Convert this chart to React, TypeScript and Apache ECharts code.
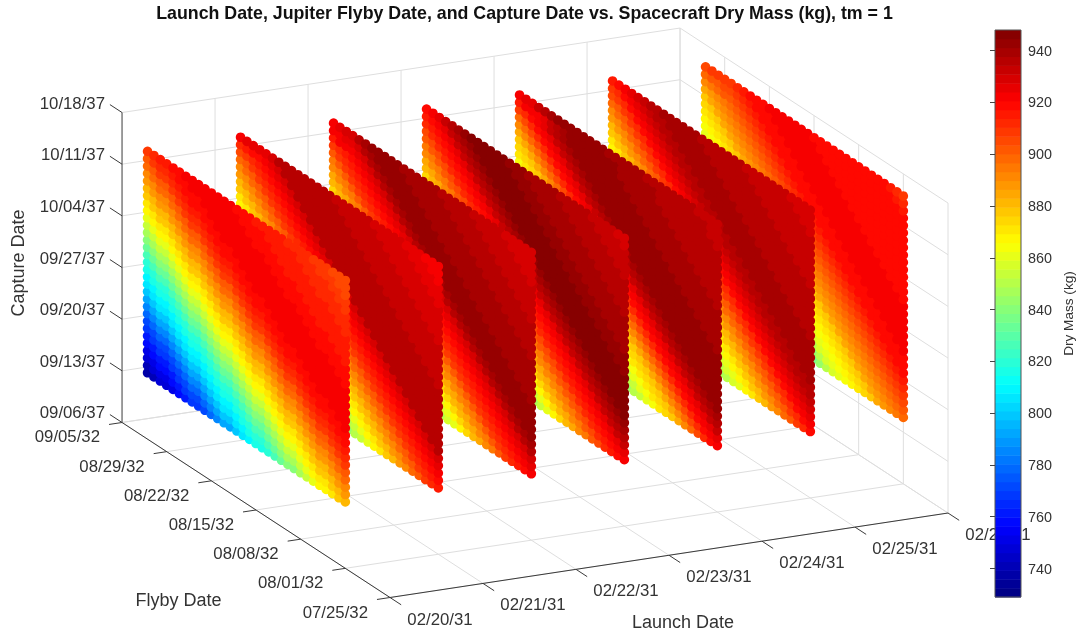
import React, { useEffect, useRef } from "react";
import * as echarts from "echarts";

const FONT = "'Liberation Sans', Arial, sans-serif";

// Tick labels of the three date axes (one step = 1 day for launch, 7 days for the other two).
const launchTicks = ["02/20/31", "02/21/31", "02/22/31", "02/23/31", "02/24/31", "02/25/31", "02/26/31"];
const flybyTicks = ["07/25/32", "08/01/32", "08/08/32", "08/15/32", "08/22/32", "08/29/32", "09/05/32"];
const captureTicks = ["09/06/37", "09/13/37", "09/20/37", "09/27/37", "10/04/37", "10/11/37", "10/18/37"];
const colorbarTicks = [740, 760, 780, 800, 820, 840, 860, 880, 900, 920, 940];

// Days from each axis's first tick.
const launchDays = [0, 1, 2, 3, 4, 5, 6];
const flybyDays = [38, 37, 36, 35, 34, 33, 32, 31, 30, 29, 28, 27, 26, 25, 24, 23, 22, 21, 20, 19, 18, 17, 16, 15, 14, 13, 12, 11, 10, 9, 8, 7];
const captureDays = [9, 10, 11, 12, 13, 14, 15, 16, 17, 18, 19, 20, 21, 22, 23, 24, 25, 26, 27, 28, 29, 30, 31, 32, 33, 34, 35, 36, 37, 38, 39];

const MASS_MIN = 729;
const MASS_MAX = 948;

// Dry mass, as colour-bar bands (one character = one of 64 bands).
// One string per capture date, bottom to top; one character per flyby date, back to front.
const BANDS = "0123456789abcdefghijklmnopqrstuvwxyzABCDEFGHIJKLMNOPQRSTUVWXYZ+*";

const massLaunch0 = [
  "23556" + "89bbcegiikmnppqsuwwyACEEFHI",
  "3566" + "89bccegikkmnpqqsuwyyACEFFHIK",
  "5688" + "9bceegikmmnpqssuwyAACEFHHIKL",
  "6899" + "bcegg" + "ikmnn" + "pqsuu" + "wyACC" + "EFHII" + "KLN",
  "89bb" + "cegii" + "kmnpp" + "qsuww" + "yACEE" + "FHIKK" + "LNO",
  "9bcc" + "egikk" + "mnpqq" + "suwyy" + "ACEFF" + "HIKLL" + "NOQ",
  "bcee" + "gikmm" + "npqss" + "uwyAA" + "CEFHH" + "IKLNN" + "OQR",
  "cegg" + "ikmnn" + "pqsuu" + "wyACC" + "EFHII" + "KLNOO" + "QRS",
  "egii" + "kmnpp" + "qsuww" + "yACEE" + "FHIKK" + "LNOQQ" + "RST",
  "gikk" + "mnpqq" + "suwyy" + "ACEFF" + "HIKLL" + "NOQRR" + "STT",
  "ikmm" + "npqss" + "uwyAA" + "CEFHH" + "IKLNN" + "OQRSS" + "TTU",
  "kmnn" + "pqsuu" + "wyACC" + "EFHII" + "KLNOO" + "QRSTT" + "TUU",
  "mnpp" + "qsuww" + "yACEE" + "FHIKK" + "LNOQQ" + "RSTTT" + "UUU",
  "npqq" + "suwyy" + "ACEFF" + "HIKLL" + "NOQRR" + "STTUU" + "UUU",
  "pqss" + "uwyAA" + "CEFHH" + "IKLNN" + "OQRSS" + "TTUUU" + "UUU",
  "qsuu" + "wyACC" + "EFHII" + "KLNOO" + "QRSTT" + "TUUUU" + "UUU",
  "suww" + "yACEE" + "FHIKK" + "LNOQQ" + "RSTTT" + "UUUUU" + "UUT",
  "uwyy" + "ACEFF" + "HIKLL" + "NOQRR" + "STTUU" + "UUUUU" + "UTT",
  "wyAA" + "CEFHH" + "IKLNN" + "OQRSS" + "TTUUU" + "UUUUU" + "TTT",
  "yACC" + "EFHII" + "KLNOO" + "QRSTT" + "TUUUU" + "UUUTT" + "TTS",
  "ACEE" + "FHIKK" + "LNOQQ" + "RSTTT" + "UUUUU" + "UUTTT" + "TSS",
  "CEFF" + "HIKLL" + "NOQRR" + "STTUU" + "UUUUU" + "UTTTT" + "SSS",
  "EFHH" + "IKLNN" + "OQRSS" + "TTUUU" + "UUUUU" + "TTTSS" + "SSS",
  "FHII" + "KLNOO" + "QRSTT" + "TUUUU" + "UUUTT" + "TTSSS" + "SSR",
  "HIKK" + "LNOQQ" + "RSTTT" + "UUUUU" + "UUTTT" + "TSSSS" + "SRR",
  "IKLL" + "NOQRR" + "STTUU" + "UUUUU" + "UTTTT" + "SSSSS" + "RRR",
  "KLNN" + "OQRSS" + "TTUUU" + "UUUUU" + "TTTSS" + "SSSRR" + "RRQ",
  "LNOO" + "QRSTT" + "TUUUU" + "UUUTT" + "TTSSS" + "SSRRR" + "RQQ",
  "NOQQ" + "RSTTT" + "UUUUU" + "UUTTT" + "TSSSS" + "SRRRR" + "QQP",
  "OQRR" + "STTUU" + "UUUUU" + "UTTTT" + "SSSSS" + "RRRQQ" + "QPP",
  "QRSS" + "TTUUU" + "UUUUU" + "TTTSS" + "SSSRR" + "RRQQQ" + "PPP",
];

const massLaunch1 = [
  "89bcefhiklnoqrtuwxzACEFHIKLNOQRS",
  "9bcefhiklnoqrtuwxzACEFHIKLNOQRST",
  "bcefhiklnoqrtuwxzACEFHIKLNOQRSTU",
  "cefhiklnoqrtuwxzACEFHIKLNOQRSTUV",
  "efhiklnoqrtuwxzACEFHIKLNOQRSTUVW",
  "fhiklnoqrtuwxzACEFHIKLNOQRSTUVWY",
  "hiklnoqrtuwxzACEFHIKLNOQRSTUVWYY",
  "iklnoqrtuwxzACEFHIKLNOQRSTUVWYYY",
  "klnoqrtuwxzACEFHIKLNOQRSTUVWYYYY",
  "lnoqrtuwxzACEFHIKLNOQRSTUVWYYYYY",
  "noqrtuwxzACEFHIKLNOQRSTUVWYYYYYY",
  "oqrtuwxzACEFHIKLNOQRSTUVWYYYYYYY",
  "qrtuwxzACEFHIKLNOQRSTUVWYYYYYYYY",
  "rtuwxzACEFHIKLNOQRSTUVWYYYYYYYYY",
  "tuwxzACEFHIKLNOQRSTUVWYYYYYYYYYX",
  "uwxzACEFHIKLNOQRSTUVWYYYYYYYYYXX",
  "wxzACEFHIKLNOQRSTUVWYYYYYYYYYXXX",
  "xzACEFHIKLNOQRSTUVWYYYYYYYYYXXXX",
  "zACEFHIKLNOQRSTUVWYYYYYYYYYXXXXX",
  "ACEFHIKLNOQRSTUVWYYYYYYYYYXXXXXX",
  "CEFHIKLNOQRSTUVWYYYYYYYYYXXXXXXW",
  "EFHIKLNOQRSTUVWYYYYYYYYYXXXXXXWW",
  "FHIKLNOQRSTUVWYYYYYYYYYXXXXXXWWW",
  "HIKLNOQRSTUVWYYYYYYYYYXXXXXXWWWW",
  "IKLNOQRSTUVWYYYYYYYYYXXXXXXWWWWW",
  "KLNOQRSTUVWYYYYYYYYYXXXXXXWWWWWV",
  "LNOQRSTUVWYYYYYYYYYXXXXXXWWWWWVV",
  "NOQRSTUVWYYYYYYYYYXXXXXXWWWWWVVV",
  "PQRSTUVWYYYYYYYYYXXXXXXWWWWWVVVU",
  "RSTTUVWYYYYYYYYYXXXXXXWWWWWVVVUU",
  "UVVVVWYYYYYYYYYXXXXXXWWWWWVVVUUU",
];

const massLaunch2 = [
  "79bdfhikmnpqstuwxzBCEGIJLMOQRSTU",
  "9bdfhikmnpqstuwxzBCEGIJLMOQRSTUV",
  "bdfhikmnpqstuwxzBCEGIJLMOQRSTUVW",
  "dfhikmnpqstuwxzBCEGIJLMOQRSTUVWY",
  "fhikmnpqstuwxzBCEGIJLMOQRSTUVWYZ",
  "hikmnpqstuwxzBCEGIJLMOQRSTUVWYZ+",
  "ikmnpqstuwxzBCEGIJLMOQRSTUVWYZ++",
  "kmnpqstuwxzBCEGIJLMOQRSTUVWYZ+++",
  "mnpqstuwxzBCEGIJLMOQRSTUVWYZ++++",
  "npqstuwxzBCEGIJLMOQRSTUVWYZ+++++",
  "pqstuwxzBCEGIJLMOQRSTUVWYZ+++++Z",
  "qstuwxzBCEGIJLMOQRSTUVWYZ+++++ZZ",
  "stuwxzBCEGIJLMOQRSTUVWYZ+++++ZZZ",
  "tuwxzBCEGIJLMOQRSTUVWYZ+++++ZZZZ",
  "uwxzBCEGIJLMOQRSTUVWYZ+++++ZZZZZ",
  "wxzBCEGIJLMOQRSTUVWYZ+++++ZZZZZZ",
  "xzBCEGIJLMOQRSTUVWYZ+++++ZZZZZZY",
  "zBCEGIJLMOQRSTUVWYZ+++++ZZZZZZYY",
  "BCEGIJLMOQRSTUVWYZ+++++ZZZZZZYYY",
  "CEGIJLMOQRSTUVWYZ+++++ZZZZZZYYYY",
  "EGIJLMOQRSTUVWYZ+++++ZZZZZZYYYYY",
  "GIJLMOQRSTUVWYZ+++++ZZZZZZYYYYYX",
  "IJLMOQRSTUVWYZ+++++ZZZZZZYYYYYXX",
  "JLMOQRSTUVWYZ+++++ZZZZZZYYYYYXXX",
  "LMOQRSTUVWYZ+++++ZZZZZZYYYYYXXXX",
  "MOQRSTUVWYZ+++++ZZZZZZYYYYYXXXXX",
  "OQRSTUVWYZ+++++ZZZZZZYYYYYXXXXXW",
  "QRSTUVWYZ+++++ZZZZZZYYYYYXXXXXWW",
  "SUUUVWYZ+++++ZZZZZZYYYYYXXXXXWWW",
  "UUVVWYZ+++++ZZZZZZYYYYYXXXXXWWWW",
  "UVWWYZ+++++ZZZZZZYYYYYXXXXXWWWWW",
];

const massLaunch3 = [
  "68aceghjlmoprstvwyACEGIJLMOPRSTU",
  "8aceghjlmoprstvwyACEGIJLMOPRSTUV",
  "aceghjlmoprstvwyACEGIJLMOPRSTUVX",
  "ceghjlmoprstvwyACEGIJLMOPRSTUVXY",
  "eghjlmoprstvwyACEGIJLMOPRSTUVXYZ",
  "ghjlmoprstvwyACEGIJLMOPRSTUVXYZ+",
  "hjlmoprstvwyACEGIJLMOPRSTUVXYZ+*",
  "jlmoprstvwyACEGIJLMOPRSTUVXYZ+**",
  "lmoprstvwyACEGIJLMOPRSTUVXYZ+***",
  "moprstvwyACEGIJLMOPRSTUVXYZ+****",
  "oprstvwyACEGIJLMOPRSTUVXYZ+*****",
  "prstvwyACEGIJLMOPRSTUVXYZ+******",
  "rstvwyACEGIJLMOPRSTUVXYZ+******+",
  "stvwyACEGIJLMOPRSTUVXYZ+******++",
  "tvwyACEGIJLMOPRSTUVXYZ+******+++",
  "vwyACEGIJLMOPRSTUVXYZ+******+++Z",
  "wyACEGIJLMOPRSTUVXYZ+******+++ZZ",
  "yACEGIJLMOPRSTUVXYZ+******+++ZZZ",
  "ACEGIJLMOPRSTUVXYZ+******+++ZZZZ",
  "CEGIJLMOPRSTUVXYZ+******+++ZZZZZ",
  "EGIJLMOPRSTUVXYZ+******+++ZZZZZY",
  "GIJLMOPRSTUVXYZ+******+++ZZZZZYY",
  "IJLMOPRSTUVXYZ+******+++ZZZZZYYY",
  "JLMOPRSTUVXYZ+******+++ZZZZZYYYY",
  "LMOPRSTUVXYZ+******+++ZZZZZYYYYY",
  "MOPRSTUVXYZ+******+++ZZZZZYYYYYX",
  "OPRSTUVXYZ+******+++ZZZZZYYYYYXX",
  "PRSTUVXYZ+******+++ZZZZZYYYYYXXX",
  "RSTUVXYZ+******+++ZZZZZYYYYYXXXX",
  "STUVXYZ+******+++ZZZZZYYYYYXXXXW",
  "TUVXYZ+******+++ZZZZZYYYYYXXXXWW",
];

const massLaunch4 = [
  "68acdfgiklnoqrtuwxzACDFGHJLNPRTU",
  "8acdfgiklnoqrtuwxzACDFGHJLNPRTUV",
  "acdfgiklnoqrtuwxzACDFGHJLNPRTUVX",
  "cdfgiklnoqrtuwxzACDFGHJLNPRTUVXY",
  "dfgiklnoqrtuwxzACDFGHJLNPRTUVXYZ",
  "fgiklnoqrtuwxzACDFGHJLNPRTUVXYZ+",
  "giklnoqrtuwxzACDFGHJLNPRTUVXYZ++",
  "iklnoqrtuwxzACDFGHJLNPRTUVXYZ+++",
  "klnoqrtuwxzACDFGHJLNPRTUVXYZ++++",
  "lnoqrtuwxzACDFGHJLNPRTUVXYZ+++++",
  "noqrtuwxzACDFGHJLNPRTUVXYZ++++++",
  "oqrtuwxzACDFGHJLNPRTUVXYZ+++++++",
  "qrtuwxzACDFGHJLNPRTUVXYZ++++++++",
  "rtuwxzACDFGHJLNPRTUVXYZ++++++++Z",
  "tuwxzACDFGHJLNPRTUVXYZ++++++++ZZ",
  "uwxzACDFGHJLNPRTUVXYZ++++++++ZZZ",
  "wxzACDFGHJLNPRTUVXYZ++++++++ZZZZ",
  "xzACDFGHJLNPRTUVXYZ++++++++ZZZZZ",
  "zACDFGHJLNPRTUVXYZ++++++++ZZZZZZ",
  "ACDFGHJLNPRTUVXYZ++++++++ZZZZZZY",
  "CDFGHJLNPRTUVXYZ++++++++ZZZZZZYY",
  "DFGHJLNPRTUVXYZ++++++++ZZZZZZYYY",
  "FGHJLNPRTUVXYZ++++++++ZZZZZZYYYY",
  "GHJLNPRTUVXYZ++++++++ZZZZZZYYYYY",
  "HJLNPRTUVXYZ++++++++ZZZZZZYYYYYY",
  "JLNPRTUVXYZ++++++++ZZZZZZYYYYYYY",
  "LNPRTUVXYZ++++++++ZZZZZZYYYYYYYY",
  "NPRTUVXYZ++++++++ZZZZZZYYYYYYYYX",
  "QRTUVXYZ++++++++ZZZZZZYYYYYYYYXX",
  "SUUUVXYZ++++++++ZZZZZZYYYYYYYYXX",
  "UVVXYZ++++++++ZZZZZZYYYYYYYYXXXX",
];

const massLaunch5 = [
  "68abdfgiklnoqrtvwyzBCEFHIKLNOQRT",
  "8abdfgiklnoqrtvwyzBCEFHIKLNOQRTU",
  "abdfgiklnoqrtvwyzBCEFHIKLNOQRTUV",
  "bdfgiklnoqrtvwyzBCEFHIKLNOQRTUVW",
  "dfgiklnoqrtvwyzBCEFHIKLNOQRTUVWX",
  "fgiklnoqrtvwyzBCEFHIKLNOQRTUVWXY",
  "giklnoqrtvwyzBCEFHIKLNOQRTUVWXYY",
  "iklnoqrtvwyzBCEFHIKLNOQRTUVWXYYZ",
  "klnoqrtvwyzBCEFHIKLNOQRTUVWXYYZZ",
  "lnoqrtvwyzBCEFHIKLNOQRTUVWXYYZZZ",
  "noqrtvwyzBCEFHIKLNOQRTUVWXYYZZZZ",
  "oqrtvwyzBCEFHIKLNOQRTUVWXYYZZZZZ",
  "qrtvwyzBCEFHIKLNOQRTUVWXYYZZZZZZ",
  "rtvwyzBCEFHIKLNOQRTUVWXYYZZZZZZY",
  "tvwyzBCEFHIKLNOQRTUVWXYYZZZZZZYY",
  "vwyzBCEFHIKLNOQRTUVWXYYZZZZZZYYY",
  "wyzBCEFHIKLNOQRTUVWXYYZZZZZZYYYY",
  "yzBCEFHIKLNOQRTUVWXYYZZZZZZYYYYY",
  "zBCEFHIKLNOQRTUVWXYYZZZZZZYYYYYY",
  "BCEFHIKLNOQRTUVWXYYZZZZZZYYYYYYY",
  "CEFHIKLNOQRTUVWXYYZZZZZZYYYYYYYX",
  "EFHIKLNOQRTUVWXYYZZZZZZYYYYYYYXX",
  "FHIKLNOQRTUVWXYYZZZZZZYYYYYYYXXX",
  "HIKLNOQRTUVWXYYZZZZZZYYYYYYYXXXX",
  "IKLNOQRTUVWXYYZZZZZZYYYYYYYXXXXX",
  "KLNOQRTUVWXYYZZZZZZYYYYYYYXXXXXX",
  "LNOQRTUVWXYYZZZZZZYYYYYYYXXXXXXX",
  "NOQRTUVWXYYZZZZZZYYYYYYYXXXXXXXW",
  "PQRTUVWXYYZZZZZZYYYYYYYXXXXXXXWW",
  "QRTUVWXYYZZZZZZYYYYYYYXXXXXXXWWW",
  "STUVWXYYZZZZZZYYYYYYYXXXXXXXWWWW",
];

const massLaunch6 = [
  "34679acdfgijlnprtvxzBCDEFGHJKLMN",
  "4679acdfgijlnprtvxzBCDEFGHJKLMNO",
  "679acdfgijlnprtvxzBCDEFGHJKLMNOP",
  "79acdfgijlnprtvxzBCDEFGHJKLMNOPQ",
  "9acdfgijlnprtvxzBCDEFGHJKLMNOPQR",
  "acdfgijlnprtvxzBCDEFGHJKLMNOPQRS",
  "cdfgijlnprtvxzBCDEFGHJKLMNOPQRST",
  "dfgijlnprtvxzBCDEFGHJKLMNOPQRSTT",
  "fgijlnprtvxzBCDEFGHJKLMNOPQRSTTT",
  "gijlnprtvxzBCDEFGHJKLMNOPQRSTTTU",
  "ijlnprtvxzBCDEFGHJKLMNOPQRSTTTUU",
  "jlnprtvxzBCDEFGHJKLMNOPQRSTTTUUU",
  "lnprtvxzBCDEFGHJKLMNOPQRSTTTUUUU",
  "nprtvxzBCDEFGHJKLMNOPQRSTTTUUUUU",
  "prtvxzBCDEFGHJKLMNOPQRSTTTUUUUUU",
  "rtvxzBCDEFGHJKLMNOPQRSTTTUUUUUUU",
  "tvxzBCDEFGHJKLMNOPQRSTTTUUUUUUUT",
  "vxzBCDEFGHJKLMNOPQRSTTTUUUUUUUTT",
  "xzBCDEFGHJKLMNOPQRSTTTUUUUUUUTTT",
  "zBCDEFGHJKLMNOPQRSTTTUUUUUUUTTTT",
  "BCDEFGHJKLMNOPQRSTTTUUUUUUUTTTTT",
  "CDEFGHJKLMNOPQRSTTTUUUUUUUTTTTTT",
  "DEFGHJKLMNOPQRSTTTUUUUUUUTTTTTTT",
  "EFGHJKLMNOPQRSTTTUUUUUUUTTTTTTTT",
  "FGHJKLMNOPQRSTTTUUUUUUUTTTTTTTTT",
  "GHJKLMNOPQRSTTTUUUUUUUTTTTTTTTTT",
  "HJKLMNOPQRSTTTUUUUUUUTTTTTTTTTTT",
  "JKLMNOPQRSTTTUUUUUUUTTTTTTTTTTTT",
  "LMNOOPQRSTTTUUUUUUUTTTTTTTTTTTTS",
  "NOOPPQRSTTTUUUUUUUTTTTTTTTTTTTSR",
  "PQQQQRSTTTUUUUUUUTTTTTTTTTTTTSRQ",
];

const massByLaunch = [massLaunch0, massLaunch1, massLaunch2, massLaunch3, massLaunch4, massLaunch5, massLaunch6];

const bandWidth = (MASS_MAX - MASS_MIN) / BANDS.length;
const massOf = (band: number) => MASS_MIN + (band + 0.5) * bandWidth;
const clamp01 = (v: number) => Math.max(0, Math.min(1, v));
function jet(band: number) {
  const v = (band + 0.5) / BANDS.length;
  const r = clamp01(Math.min(4 * v - 1.5, -4 * v + 4.5));
  const g = clamp01(Math.min(4 * v - 0.5, -4 * v + 3.5));
  const b = clamp01(Math.min(4 * v + 0.5, -4 * v + 2.5));
  return `rgb(${Math.round(r * 255)},${Math.round(g * 255)},${Math.round(b * 255)})`;
}

// Orthographic view of the MATLAB box: days on each axis to page units.
function project(launch: number, flyby: number, capture: number): [number, number] {
  return [
    390 + 93 * launch - 6.38 * flyby,
    597.5 - 14.08 * launch - 4.167 * flyby - 7.38 * capture,
  ];
}

const GRID = "#dedede";
const AXIS = "#3a3a3a";
const TEXT = "#333333";
const L_END = 6;
const D_END = 42;

type Seg = { a: [number, number]; b: [number, number]; color: string };
function buildSegments(): Seg[] {
  const segs: Seg[] = [];
  const add = (p: number[], q: number[], color: string) =>
    segs.push({ a: project(p[0], p[1], p[2]), b: project(q[0], q[1], q[2]), color });
  launchDays.forEach((l) => {
    add([l, 0, 0], [l, D_END, 0], GRID);
    if (l > 0) add([l, D_END, 0], [l, D_END, D_END], GRID);
  });
  flybyTicks.forEach((_, k) => {
    const f = k * 7;
    add([0, f, 0], [L_END, f, 0], GRID);
    add([L_END, f, 0], [L_END, f, D_END], GRID);
  });
  captureTicks.forEach((_, k) => {
    const c = k * 7;
    add([0, D_END, c], [L_END, D_END, c], GRID);
    add([L_END, 0, c], [L_END, D_END, c], GRID);
  });
  add([0, D_END, 0], [0, D_END, D_END], AXIS);
  add([0, 0, 0], [0, D_END, 0], AXIS);
  add([0, 0, 0], [L_END, 0, 0], AXIS);
  captureTicks.forEach((_, k) => add([0, D_END, k * 7], [0, D_END + 1.9, k * 7], AXIS));
  flybyTicks.forEach((_, k) => add([0, k * 7, 0], [-0.14, k * 7, 0], AXIS));
  launchDays.forEach((l) => add([l, 0, 0], [l, -1.75, 0], AXIS));
  return segs;
}

type Label = { x: number; y: number; text: string; align: string; size: number; rotate?: number };
function buildLabels(): Label[] {
  const out: Label[] = [];
  captureTicks.forEach((text, k) => {
    const p = project(0, D_END, k * 7);
    out.push({ x: p[0] - 17, y: p[1] - 9.5, text, align: "right", size: 16.8 });
  });
  flybyTicks.forEach((text, k) => {
    const p = project(0, k * 7, 0);
    out.push({ x: p[0] - 22, y: p[1] + 14.5, text, align: "right", size: 16.8 });
  });
  launchTicks.forEach((text, k) => {
    const p = project(k, 0, 0);
    out.push({ x: p[0] + 50, y: p[1] + 21.5, text, align: "center", size: 16.8 });
  });
  out.push({ x: 18, y: 263, text: "Capture Date", align: "center", size: 18, rotate: Math.PI / 2 });
  out.push({ x: 178.5, y: 600, text: "Flyby Date", align: "center", size: 18 });
  out.push({ x: 683, y: 622, text: "Launch Date", align: "center", size: 18 });
  return out;
}

function buildOption() {
  const segs = buildSegments();
  const labels = buildLabels();
  const bandIndices = Array.from(BANDS).map((_, i) => [i]);

  const sheetSeries = launchDays
    .map((launch, s) => {
      const points: any[] = [];
      flybyDays.forEach((flyby, i) => {
        captureDays.forEach((capture, j) => {
          const ch = massByLaunch[s][j][Math.min(i, massByLaunch[s][j].length - 1)];
          const band = BANDS.indexOf(ch);
          const p = project(launch, flyby, capture);
          points.push({ value: [p[0], p[1], massOf(band)], itemStyle: { color: jet(band), opacity: 1 } });
        });
      });
      return {
        type: "scatter",
        name: launchTicks[s],
        xAxisIndex: 0,
        yAxisIndex: 0,
        data: points,
        symbol: "circle",
        symbolSize: 9.6,
        progressive: 0,
        silent: true,
        itemStyle: { opacity: 1 },
        z: 3,
      };
    })
    .reverse();

  return {
    animation: false,
    backgroundColor: "#ffffff",
    title: {
      text: "Launch Date, Jupiter Flyby Date, and Capture Date vs. Spacecraft Dry Mass (kg), tm = 1",
      left: 519.5,
      top: -1,
      textAlign: "center",
      textStyle: { fontFamily: FONT, fontSize: 17.8, fontWeight: "bold", color: "#111111" },
    },
    grid: [
      { left: 0, top: 0, width: 1081, height: 637, show: false },
      { left: 995, top: 30, width: 26, height: 567, show: false },
    ],
    xAxis: [
      { type: "value", gridIndex: 0, min: 0, max: 1081, show: false },
      { type: "value", gridIndex: 1, min: 0, max: 1, show: false },
    ],
    yAxis: [
      { type: "value", gridIndex: 0, min: 0, max: 637, inverse: true, show: false },
      {
        type: "value",
        gridIndex: 1,
        min: MASS_MIN,
        max: MASS_MAX,
        position: "right",
        z: 7,
        axisLine: { show: false },
        splitLine: { show: false },
        axisTick: {
          show: true,
          inside: true,
          length: 5,
          customValues: colorbarTicks,
          lineStyle: { color: "#444444", width: 1 },
        },
        axisLabel: {
          show: true,
          customValues: colorbarTicks,
          margin: 7,
          fontFamily: FONT,
          fontSize: 14.4,
          color: TEXT,
        },
        name: "Dry Mass (kg)",
        nameLocation: "middle",
        nameRotate: 90,
        nameGap: 40,
        nameTextStyle: { fontFamily: FONT, fontSize: 13.6, color: TEXT },
      },
    ],
    series: [
      {
        type: "custom",
        name: "box",
        xAxisIndex: 0,
        yAxisIndex: 0,
        silent: true,
        clip: false,
        z: 1,
        data: segs.map((_, i) => [i]),
        renderItem: (params: any, api: any) => {
          const s = segs[params.dataIndex];
          const a = api.coord(s.a);
          const b = api.coord(s.b);
          return {
            type: "line",
            shape: { x1: a[0], y1: a[1], x2: b[0], y2: b[1] },
            style: { stroke: s.color, lineWidth: 1 },
          };
        },
      },
      {
        type: "custom",
        name: "labels",
        xAxisIndex: 0,
        yAxisIndex: 0,
        silent: true,
        clip: false,
        z: 2,
        data: labels.map((_, i) => [i]),
        renderItem: (params: any, api: any) => {
          const t = labels[params.dataIndex];
          const c = api.coord([t.x, t.y]);
          return {
            type: "text",
            x: c[0],
            y: c[1],
            rotation: t.rotate || 0,
            style: {
              text: t.text,
              fontFamily: FONT,
              fontSize: t.size,
              fill: TEXT,
              align: t.align,
              verticalAlign: "middle",
            },
          };
        },
      },
      ...sheetSeries,
      {
        type: "custom",
        name: "colorbar",
        xAxisIndex: 1,
        yAxisIndex: 1,
        silent: true,
        z: 5,
        data: bandIndices,
        renderItem: (params: any, api: any) => {
          const band = params.dataIndex;
          const lo = api.coord([0, MASS_MIN + band * bandWidth]);
          const hi = api.coord([1, MASS_MIN + (band + 1) * bandWidth]);
          return {
            type: "rect",
            shape: { x: lo[0], y: hi[1], width: hi[0] - lo[0], height: lo[1] - hi[1] + 0.5 },
            style: { fill: jet(band) },
          };
        },
      },
      {
        type: "custom",
        name: "colorbar-frame",
        xAxisIndex: 1,
        yAxisIndex: 1,
        silent: true,
        clip: false,
        z: 6,
        data: [[0]],
        renderItem: (_: any, api: any) => {
          const lo = api.coord([0, MASS_MIN]);
          const hi = api.coord([1, MASS_MAX]);
          return {
            type: "rect",
            shape: { x: lo[0], y: hi[1], width: hi[0] - lo[0], height: lo[1] - hi[1] },
            style: { fill: "none", stroke: "#555555", lineWidth: 1 },
          };
        },
      },
    ],
  };
}

export default function App() {
  const ref = useRef<HTMLDivElement>(null);
  useEffect(() => {
    const chart = echarts.init(ref.current as HTMLDivElement, undefined, { renderer: "svg" });
    chart.setOption(buildOption() as any);
    return () => chart.dispose();
  }, []);
  return <div ref={ref} style={{ position: "absolute", left: 0, top: 0, width: 1081, height: 637, filter: "blur(0.4px)" }} />;
}
